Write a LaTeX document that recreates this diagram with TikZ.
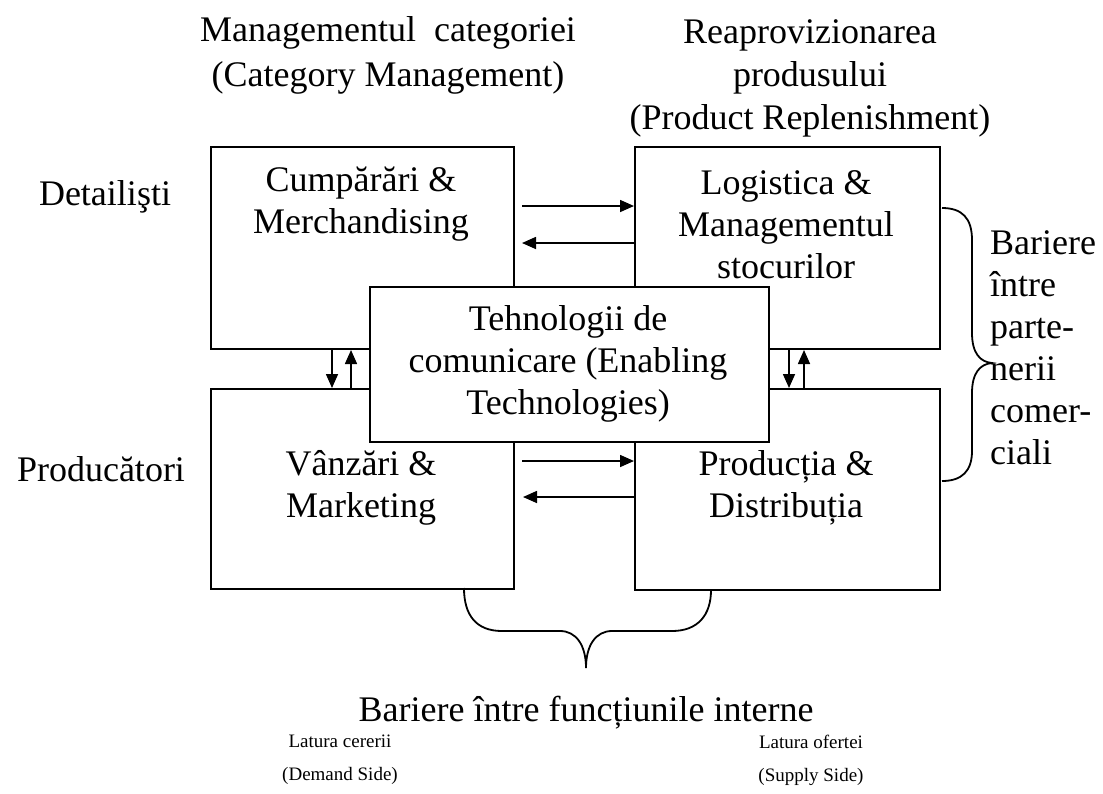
\documentclass[tikz,border=0pt]{standalone}
\usepackage{fontspec}
\setmainfont{Liberation Serif}
\usetikzlibrary{arrows.meta,calc}
\begin{document}
\begin{tikzpicture}[x=1pt,y=-1pt,
  box/.style={draw,line width=2pt,inner sep=0pt,anchor=north west},
  lbl/.style={font=\fontsize{36}{42}\selectfont,align=center,inner sep=0pt},
  hdr/.style={font=\fontsize{36}{44}\selectfont,align=center,inner sep=0pt},
  sm/.style={font=\fontsize{19}{33}\selectfont,align=center,inner sep=0pt},
  arr/.style={-{Triangle[length=14pt,width=12pt]},line width=1.6pt},
  brace/.style={line width=1.8pt}]
\useasboundingbox (0,0) rectangle (1103,793);
% boxes
\node[box,minimum width=303pt,minimum height=202pt] (tl) at (210,146) {};
\node[box,minimum width=305pt,minimum height=202pt] (tr) at (634,146) {};
\node[box,minimum width=303pt,minimum height=200pt] (bl) at (210,388) {};
\node[box,minimum width=305pt,minimum height=201pt] (br) at (634,388) {};
\node[box,fill=white,minimum width=399pt,minimum height=155pt] (c) at (369,286) {};
% box texts
\node[lbl] (tlt) at (361,204) {Cumpărări \&\\Merchandising};
\node[lbl] (trt) at (786,225) {Logistica \&\\Managementul\\stocurilor};
\node[lbl] (ct) at (568,364) {Tehnologii de\\comunicare (Enabling\\Technologies)};
\node[lbl] (blt) at (361,488) {Vânzări \&\\Marketing};
\node[lbl] (brt) at (786,488) {Producția \&\\Distribuția};
% headers and side labels
\node[hdr,font=\fontsize{36}{45}\selectfont] (h1) at (388,55) {Managementul~ categoriei\\(Category Management)};
\node[hdr,font=\fontsize{36}{43}\selectfont] (h2) at (810,78) {Reaprovizionarea\\produsului\\(Product Replenishment)};
\node[lbl] (det) at (105,197) {Detailişti};
\node[lbl] (prod) at (101,469) {Producători};
\node[lbl,align=left,anchor=west] (bp) at (990,348) {Bariere\\între\\parte-\\nerii\\comer-\\ciali};
\node[lbl] (bt) at (586,713) {Bariere între funcțiunile interne};
\node[sm] (l1) at (340,760) {Latura cererii\\(Demand Side)};
\node[sm] (l2) at (811,760) {Latura ofertei\\(Supply Side)};
% arrows
\draw[arr] ($(tl.east|-0,206)+(7,0)$) -- (tr.west|-0,206);
\draw[arr] (tr.west|-0,243) -- ($(tl.east|-0,243)+(7,0)$);
\draw[arr] ($(bl.east|-0,461)+(7,0)$) -- (br.west|-0,461);
\draw[arr] (br.west|-0,497) -- ($(bl.east|-0,497)+(8,0)$);
\draw[arr] (tl.south-|332,0) -- (bl.north-|332,0);
\draw[arr] (bl.north-|351,0) -- (tl.south-|351,0);
\draw[arr] (tr.south-|789,0) -- (br.north-|789,0);
\draw[arr] (br.north-|804,0) -- (tr.south-|804,0);
% braces
\coordinate (rb1) at (942,208);
\coordinate (rb2) at (942,481);
\coordinate (bb1) at (464,588);
\coordinate (bb2) at (711,590);
\draw[brace] (rb1) .. controls (962,208) and (972,218) .. (972,240) -- (972,333)
  .. controls (972,353) and (980,362) .. (992,363)
  .. controls (980,364) and (972,373) .. (972,393) -- (972,451)
  .. controls (972,471) and (962,481) .. (rb2);
\draw[brace] (bb1) .. controls (464,615) and (476,631) .. (502,631) -- (560,631)
  .. controls (576,631) and (586,645) .. (586,668)
  .. controls (586,645) and (596,631) .. (612,631) -- (672,631)
  .. controls (698,631) and (711,615) .. (bb2);
\end{tikzpicture}
\end{document}
